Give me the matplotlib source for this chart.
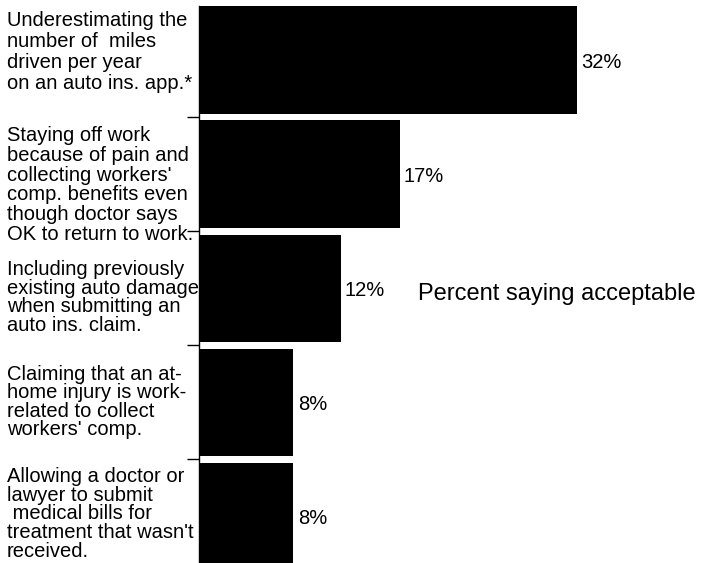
import matplotlib.pyplot as plt
import numpy as np

plt.rcParams['font.family'] = ['Liberation Sans', 'DejaVu Sans']

labels = [
    "Underestimating the\nnumber of  miles\ndriven per year\non an auto ins. app.*",
    "Staying off work\nbecause of pain and\ncollecting workers'\ncomp. benefits even\nthough doctor says\nOK to return to work.",
    "Including previously\nexisting auto damage\nwhen submitting an\nauto ins. claim.",
    "Claiming that an at-\nhome injury is work-\nrelated to collect\nworkers' comp.",
    "Allowing a doctor or\nlawyer to submit\n medical bills for\ntreatment that wasn't\nreceived.",
]
values = [32, 17, 12, 8, 8]
value_text = ["32%", "17%", "12%", "8%", "8%"]

# where the top of each label block sits, in bar units, and its line spacing
label_top = [-0.43, 0.579, 1.754, 2.675, 3.57]
label_ls = [1.127, 1.05, 0.98, 0.95, 0.977]

fig = plt.figure(figsize=(7.01, 5.63), dpi=100)
ax = fig.add_axes([199 / 701, 0, 502 / 701, 1])

y = np.arange(len(values))
ax.barh(y, values, height=0.94, color='black')

ax.set_xlim(0, 42.5)
ax.set_ylim(4.41, -0.526)

for s in ['top', 'right', 'bottom']:
    ax.spines[s].set_visible(False)
ax.spines['left'].set_linewidth(1.0)
ax.spines['left'].set_bounds(-0.47, 4.41)
ax.set_xticks([])
ax.set_yticks([])
ax.set_yticks(np.arange(0.5, 4.0, 1.0), minor=True)
ax.tick_params(axis='y', which='minor', length=9, width=1.0, direction='out')
ax.set_yticklabels([], minor=True)

trans = plt.matplotlib.transforms.blended_transform_factory(fig.transFigure, ax.transData)
for lab, yt, ls in zip(labels, label_top, label_ls):
    ax.text(7 / 701, yt, lab, transform=trans, ha='left', va='top',
            fontsize=14.5, linespacing=ls)

for i, (v, t) in enumerate(zip(values, value_text)):
    ax.text(v + 0.35, i + 0.02, t, ha='left', va='center', fontsize=14.5)

ax.text(418 / 701, 1 - 294 / 563, "Percent saying acceptable", transform=fig.transFigure,
        ha='left', va='center', fontsize=17)

fig.savefig("out.png", dpi=100)
